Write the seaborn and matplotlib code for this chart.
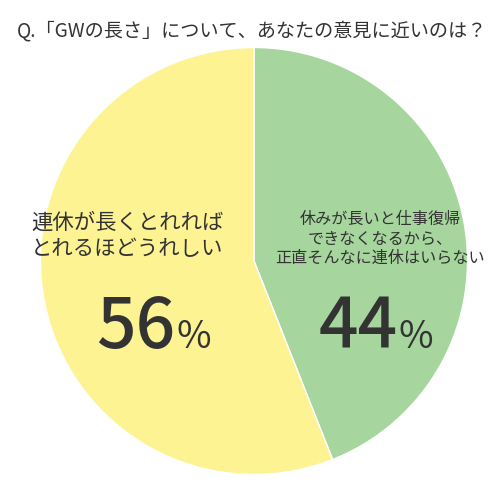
import matplotlib
matplotlib.use("Agg")
import matplotlib.pyplot as plt
import seaborn as sns

title = "Q.「GWの長さ」について、あなたの意見に近いのは？"
labels = ["休みが長いと仕事復帰\nできなくなるから、\n正直そんなに連休はいらない", "連休が長くとれれば\nとれるほどうれしい"]
values = [44, 56]
colors = ["#A6D59E", "#FDF393"]

sns.set_theme(style="white")
plt.rcParams['font.family'] = ['Noto Sans CJK JP', 'DejaVu Sans']

W, H = 500, 484
fig = plt.figure(figsize=(W/100, H/100), dpi=100)
cx, cy, r = 254, 261, 213.5
ax = fig.add_axes([(cx - r)/W, (H - cy - r)/H, 2*r/W, 2*r/H])
ax.pie(values, colors=colors, startangle=90, counterclock=False, radius=1,
       wedgeprops=dict(edgecolor="white", linewidth=1))
ax.set_xlim(-1, 1); ax.set_ylim(-1, 1)
ax.set_aspect("auto")
ax.axis("off")

tc = "#333333"
def fx(x): return x / W
def fy(y): return 1 - y / H

fig.text(fx(252), fy(31), title, ha="center", va="center", fontsize=13.8, color=tc)

# green label
fig.text(fx(380), fy(239), labels[0], ha="center", va="center", fontsize=11.6,
         color=tc, linespacing=1.2)
fig.text(fx(398), fy(348), f"{values[0]}", ha="right", va="baseline", fontsize=50,
         color=tc, fontweight="medium")
fig.text(fx(399), fy(348), "%", ha="left", va="baseline", fontsize=27, color=tc)

# yellow label
fig.text(fx(127), fy(236), labels[1], ha="center", va="center", fontsize=15.4,
         color=tc, linespacing=1.25)
fig.text(fx(175), fy(348), f"{values[1]}", ha="right", va="baseline", fontsize=50,
         color=tc, fontweight="medium")
fig.text(fx(176), fy(348), "%", ha="left", va="baseline", fontsize=27, color=tc)

fig.savefig("out.png", dpi=100)
